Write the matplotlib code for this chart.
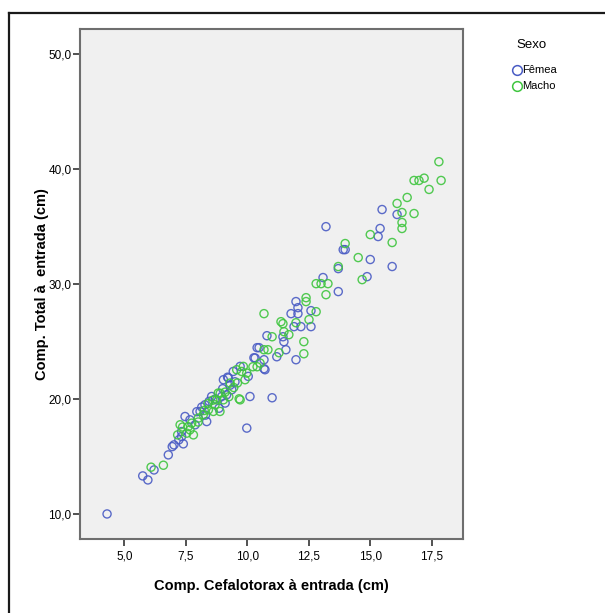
import matplotlib
matplotlib.use("Agg")
import matplotlib.pyplot as plt
from matplotlib.lines import Line2D

# Dados (comprimento cefalotorax x comprimento total, cm)
femea_x = [4.30, 5.75, 5.96, 6.21, 6.79, 6.95, 7.02, 7.22, 7.33, 7.40, 7.33, 7.47, 7.67, 7.88,
           8.08, 8.28, 8.35, 8.55, 8.96, 9.10, 9.16, 9.03, 9.23, 9.37, 9.43, 9.71, 10.04, 10.11,
           9.98, 10.32, 10.72, 8.15, 8.45, 8.70, 8.85, 9.00, 9.30, 9.50, 8.30, 7.95, 9.20,
           15.48, 16.09, 15.40, 15.32, 13.20, 13.90, 13.98, 15.00, 15.89, 13.70, 14.87, 13.08,
           13.70, 11.98, 11.78, 12.06, 12.06, 12.59, 12.59, 12.18, 11.90, 11.45, 11.49, 11.57,
           11.98, 11.20, 10.80, 10.40, 10.48, 10.27, 10.68, 10.68, 11.01]
femea_y = [10.00, 13.31, 12.96, 13.83, 15.14, 15.86, 16.01, 16.45, 16.74, 16.10, 17.17, 18.48, 18.19, 17.76,
           18.92, 19.50, 18.04, 20.22, 20.22, 19.65, 20.37, 21.68, 21.83, 20.81, 22.40, 22.84, 21.97, 20.22,
           17.47, 23.57, 22.55, 19.30, 19.80, 20.00, 19.20, 20.90, 21.20, 21.50, 18.60, 18.90, 21.90,
           36.49, 36.06, 34.84, 34.14, 35.00, 33.00, 33.00, 32.14, 31.53, 31.35, 30.65, 30.57,
           29.35, 28.48, 27.43, 27.95, 27.43, 27.69, 26.30, 26.30, 26.30, 25.42, 24.99, 24.29,
           23.42, 23.68, 25.51, 24.47, 24.47, 23.59, 23.42, 22.64, 20.11]

macho_x = [6.09, 6.59, 7.17, 7.27, 7.37, 7.54, 7.67, 7.81, 7.74, 8.21, 8.01, 8.42, 8.62, 8.69,
           8.76, 8.82, 9.03, 8.89, 9.30, 9.57, 9.77, 9.84, 9.98, 9.91, 9.71, 10.52,
           8.40, 8.60, 8.90, 9.10, 9.25, 9.45, 8.00, 7.60, 9.60, 8.25,
           17.79, 17.88, 16.78, 16.98, 17.19, 17.39, 16.50, 16.09, 16.29, 16.78, 16.29, 16.29,
           15.00, 15.89, 13.98, 14.51, 13.70, 14.67, 12.80, 13.00, 13.28, 13.20, 12.39, 12.39,
           10.68, 12.80, 12.51, 11.98, 11.37, 11.45, 11.49, 11.69, 12.30, 12.30, 11.29, 11.01,
           10.68, 10.84, 10.40, 10.23, 9.67]
macho_y = [14.07, 14.24, 16.88, 17.76, 17.56, 17.03, 17.32, 16.88, 17.90, 18.63, 18.34, 19.06, 18.92, 19.50,
           19.93, 20.52, 19.93, 18.92, 21.39, 22.55, 22.40, 22.84, 22.26, 21.68, 19.93, 23.13,
           19.60, 19.90, 20.50, 20.60, 20.20, 21.00, 18.00, 17.60, 21.40, 19.00,
           40.65, 39.02, 39.02, 39.02, 39.22, 38.24, 37.54, 37.02, 36.23, 36.14, 35.36, 34.84,
           34.31, 33.62, 33.53, 32.31, 31.53, 30.39, 30.04, 30.04, 30.04, 29.08, 28.82, 28.48,
           27.43, 27.60, 26.91, 26.64, 26.73, 26.56, 25.86, 25.60, 24.99, 23.94, 24.03, 25.42,
           24.29, 24.29, 22.81, 22.81, 20.02]

x_ticks = [5.0, 7.5, 10.0, 12.5, 15.0, 17.5]
y_ticks = [10.0, 20.0, 30.0, 40.0, 50.0]
cor_femea = "#4a5cc4"
cor_macho = "#3fc53f"

fonte_fina = ["Liberation Sans Narrow", "Liberation Sans", "DejaVu Sans"]
fonte = ["Liberation Sans", "DejaVu Sans"]

fig = plt.figure(figsize=(6.05, 6.13), dpi=100)

# Moldura externa (cortada a direita e embaixo)
fig.add_artist(Line2D([9 / 605, 1.0], [1 - 13 / 613, 1 - 13 / 613], color="#1a1a1a", lw=1.6,
                      transform=fig.transFigure))
fig.add_artist(Line2D([9 / 605, 9 / 605], [0.0, 1 - 13 / 613], color="#1a1a1a", lw=1.6,
                      transform=fig.transFigure))

ax = fig.add_axes([80 / 605, 1 - 539 / 613, 383 / 605, 510 / 613])
ax.set_facecolor("#f0f0f0")

ax.scatter(femea_x, femea_y, s=34, facecolors="none", edgecolors=cor_femea, linewidths=1.0, alpha=0.9)
ax.scatter(macho_x, macho_y, s=34, facecolors="none", edgecolors=cor_macho, linewidths=1.0, alpha=0.9)

ax.set_xlim(3.2, 18.77)
ax.set_ylim(7.82, 52.2)

ax.set_xticks(x_ticks)
ax.set_yticks(y_ticks)
ax.set_xticklabels([f"{v:.1f}".replace(".", ",") for v in x_ticks], family=fonte_fina, fontsize=8.5)
ax.set_yticklabels([f"{v:.1f}".replace(".", ",") for v in y_ticks], family=fonte_fina, fontsize=8.5)
ax.tick_params(axis="x", direction="out", length=5, width=1.2, color="#333333", pad=3)
ax.tick_params(axis="y", direction="out", length=5, width=1.2, color="#333333", pad=1)

for lado in ["left", "right", "top", "bottom"]:
    ax.spines[lado].set_color("#6e6e6e")
    ax.spines[lado].set_linewidth(1.5)

ax.set_xlabel("Comp. Cefalotorax à entrada (cm)", family=fonte, fontsize=10.5, fontweight="bold",
              labelpad=12)
ax.set_ylabel("Comp. Total à  entrada (cm)", family=fonte, fontsize=10.5, fontweight="bold",
              labelpad=0)

# Legenda
fig.text(531 / 605, 1 - 45 / 613, "Sexo", family=fonte_fina, fontsize=9.5, ha="center", va="center")
leg_y = [70, 86]
leg_txt = ["Fêmea", "Macho"]
leg_cor = [cor_femea, cor_macho]
for yy, tt, cc in zip(leg_y, leg_txt, leg_cor):
    fig.add_artist(Line2D([517 / 605], [1 - yy / 613], marker="o", markersize=7, markerfacecolor="none",
                          markeredgecolor=cc, markeredgewidth=1.1, transform=fig.transFigure))
    fig.text(522 / 605, 1 - yy / 613, tt, family=fonte_fina, fontsize=8, ha="left", va="center")

fig.savefig("out.png", dpi=100)
